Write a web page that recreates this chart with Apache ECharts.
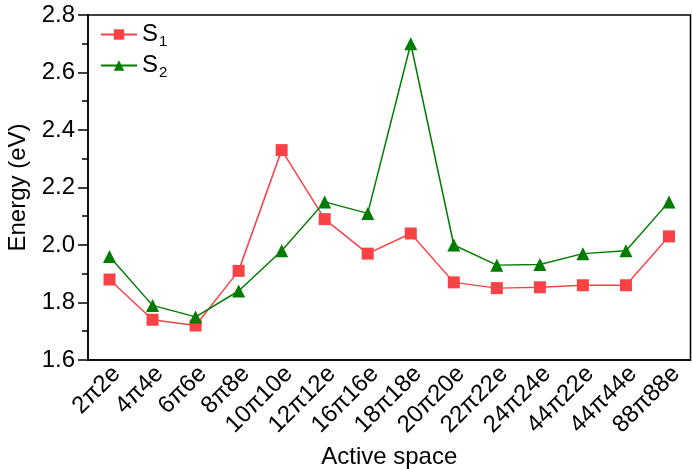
<!DOCTYPE html>
<html><head><meta charset="utf-8">
<script src="https://cdn.jsdelivr.net/npm/echarts@6/dist/echarts.min.js"></script>
<style>html,body{margin:0;padding:0;background:#fff}#c{width:692px;height:469px}</style>
</head><body><div id="c"></div>
<script>
const categories = ['2π2e','4π4e','6π6e','8π8e','10π10e','12π12e','16π16e','18π18e','20π20e','22π22e','24π24e','44π22e','44π44e','88π88e'];
const s1 = [1.88,1.74,1.72,1.91,2.33,2.09,1.97,2.04,1.87,1.85,1.853,1.86,1.86,2.03];
const s2 = [1.96,1.79,1.75,1.84,1.98,2.15,2.11,2.70,2.00,1.93,1.932,1.97,1.98,2.15];
const seriesNames = ['S1','S2'];
const yTicks = {min:1.6,max:2.8,interval:0.2};

const FONT = 'Liberation Sans, Arial, sans-serif';
const FS = 24;
const chart = echarts.init(document.getElementById('c'));
chart.setOption({
  animation:false,
  backgroundColor:'#fff',
  grid:{left:88,right:1.5,top:15,bottom:109,show:true,borderColor:'#000',borderWidth:1.5,containLabel:false,outerBoundsMode:'none'},
  legend:{
    orient:'vertical',left:100,top:20,padding:0,itemWidth:36,itemHeight:13,itemGap:2,
    data:seriesNames,
    textStyle:{fontFamily:FONT,fontSize:FS,color:'#000',
      rich:{b:{fontFamily:FONT,fontSize:FS,color:'#000',lineHeight:27},sub:{fontFamily:FONT,fontSize:15,color:'#000',padding:[14,0,0,1],lineHeight:27}}},
    formatter:function(n){return '{b|S}{sub|'+n.slice(1)+'}';}
  },
  xAxis:{
    type:'category',data:categories,boundaryGap:true,
    name:'Active space',nameLocation:'middle',nameGap:85,
    nameTextStyle:{fontFamily:FONT,fontSize:FS,color:'#000'},
    axisLine:{lineStyle:{color:'#000',width:1.5}},
    axisTick:{alignWithLabel:true,length:8,lineStyle:{color:'#000',width:1.5}},
    axisLabel:{rotate:45,fontFamily:FONT,fontSize:FS,color:'#000',margin:3,interval:0,
      align:'right',verticalAlign:'top',lineHeight:20},
    splitLine:{show:false}
  },
  yAxis:{
    type:'value',min:yTicks.min,max:yTicks.max,interval:yTicks.interval,
    name:'Energy (eV)',nameLocation:'middle',nameGap:56,
    nameTextStyle:{fontFamily:FONT,fontSize:FS,color:'#000'},
    axisLine:{show:true,lineStyle:{color:'#000',width:1.5}},
    axisTick:{show:true,length:10,lineStyle:{color:'#000',width:1.5}},
    minorTick:{show:true,splitNumber:2,length:6,lineStyle:{color:'#000',width:1.5}},
    axisLabel:{fontFamily:FONT,fontSize:FS,color:'#000',margin:13,formatter:v=>v.toFixed(1)},
    splitLine:{show:false}
  },
  series:[
    {name:'S1',type:'line',data:s1,symbol:'rect',symbolSize:12,color:'#f84246',
      lineStyle:{width:1.5,color:'#f84246'},itemStyle:{color:'#f84246'}},
    {name:'S2',type:'line',data:s2,symbol:'triangle',symbolSize:13,color:'#007d00',
      lineStyle:{width:1.5,color:'#007d00'},itemStyle:{color:'#007d00'}}
  ]
});
</script></body></html>
